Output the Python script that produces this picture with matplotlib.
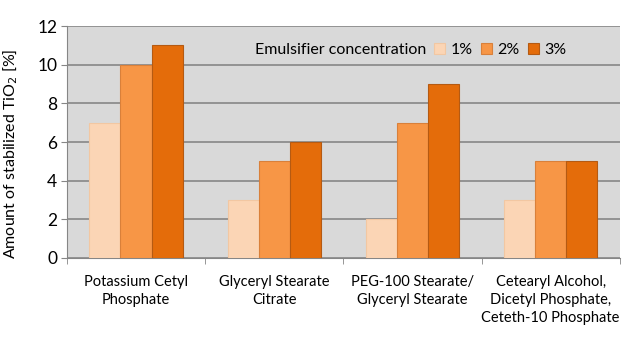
import numpy as np
import matplotlib as mpl
mpl.use('agg')
import matplotlib.pyplot as plt
import matplotlib.patches as mpatches

# data
categories = ['Potassium Cetyl\nPhosphate', 'Glyceryl Stearate\nCitrate',
              'PEG-100 Stearate/\nGlyceryl Stearate',
              'Cetearyl Alcohol,\nDicetyl Phosphate,\nCeteth-10 Phosphate']
series_names = ['1%', '2%', '3%']
conc_1 = [7, 3, 2, 3]
conc_2 = [10, 5, 7, 5]
conc_3 = [11, 6, 9, 5]
yticks = [0, 2, 4, 6, 8, 10, 12]

plt.rcParams['font.family'] = ['Lato', 'DejaVu Sans']

colours = ['#FBD5B5', '#F79646', '#E46C0A']
edges = ['#F2C7A2', '#D9803A', '#B55A12']

fig = plt.figure(figsize=(6.37, 3.43), dpi=100)
ax = fig.add_axes([0.105, 0.248, 0.868, 0.676])
ax.set_facecolor('#D9D9D9')

x = np.arange(len(categories))
w = 0.225
for i, vals in enumerate([conc_1, conc_2, conc_3]):
    ax.bar(x + (i - 1) * w, vals, width=w, color=colours[i], edgecolor=edges[i],
           linewidth=0.8, label=series_names[i], zorder=3)

# formatting
ax.set_xlim(-0.5, len(categories) - 0.5)
ax.set_ylim(0, 12)
ax.set_yticks(yticks)
ax.yaxis.grid(True, color='#878787', linewidth=1.2, zorder=0)
ax.set_axisbelow(True)
ax.set_xticks(x)
ax.set_xticklabels(categories, fontsize=10.5, linespacing=1.4)
ax.set_xticks(np.arange(-0.5, len(categories)), minor=True)
ax.tick_params(axis='x', which='major', length=0, pad=12)
ax.tick_params(axis='x', which='minor', length=4, color='#868686')
ax.tick_params(axis='y', length=4, color='#868686', labelsize=12.5, pad=3)
for s in ['top', 'right']:
    ax.spines[s].set_visible(False)
for s in ['left', 'bottom']:
    ax.spines[s].set_color('#868686')
ax.set_ylabel('Amount of stabilized TiO$_2$ [%]', fontsize=11.5, labelpad=3)
ax.yaxis.set_label_coords(-0.085, 0.45)

# legend with leading title entry
blank = mpatches.Patch(color='none', label='Emulsifier concentration')
handles, labels = ax.get_legend_handles_labels()
ax.legend([blank] + handles, ['Emulsifier concentration'] + labels, ncol=4,
          loc='upper right', bbox_to_anchor=(0.93, 0.99), frameon=False,
          fontsize=11.5, handlelength=0.7, handleheight=0.7, handletextpad=0.35,
          columnspacing=0.5)

plt.savefig('out.png', dpi=100)
plt.close()
